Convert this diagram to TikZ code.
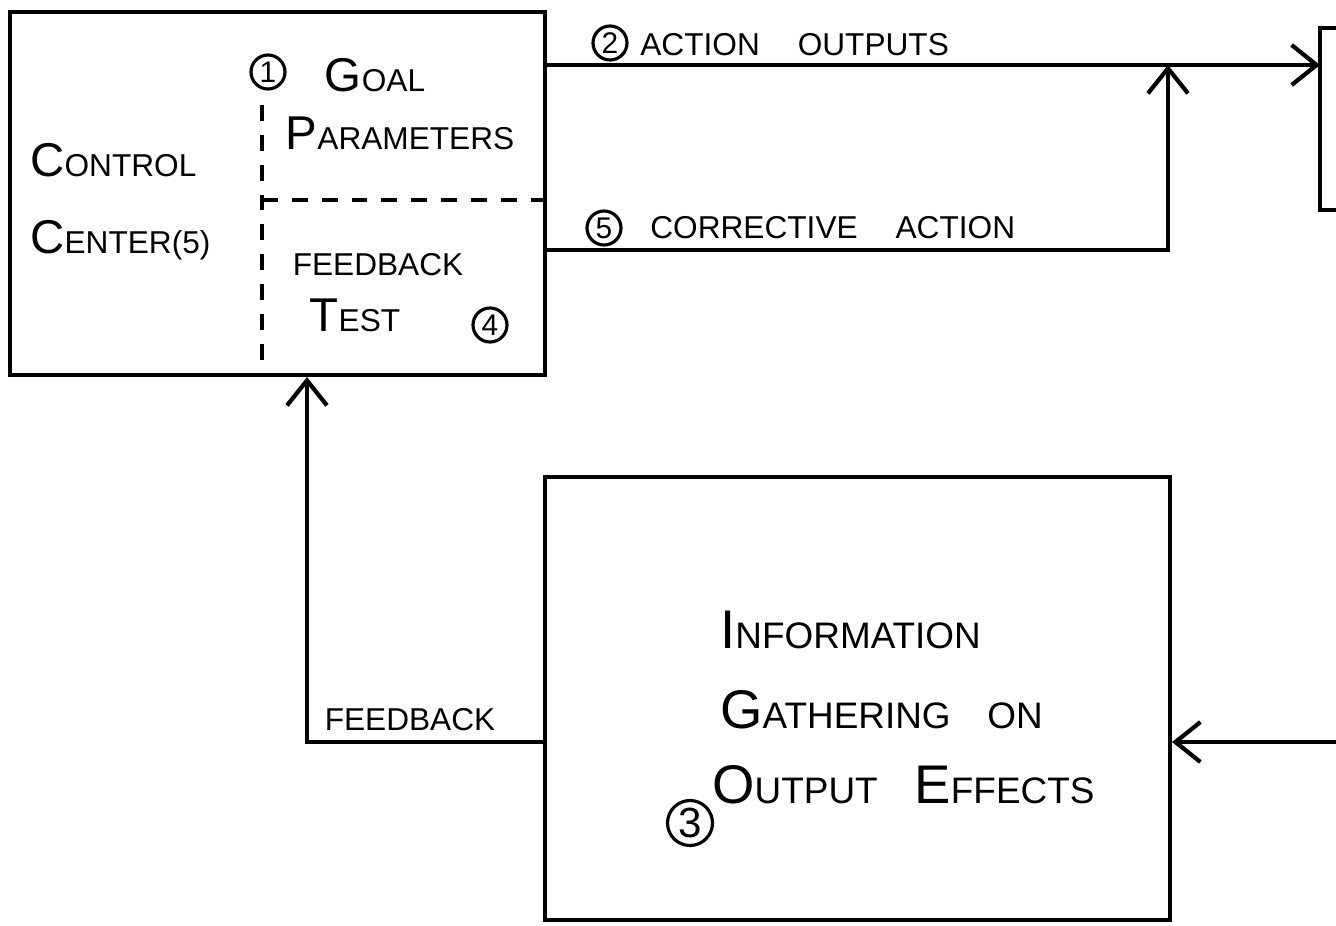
\documentclass[tikz,border=0pt]{standalone}
\usepackage{fontspec}
\setmainfont{Liberation Sans}
\usetikzlibrary{arrows.meta}
\newcommand{\bgc}[1]{{\fontsize{27}{30}\selectfont #1}}
\newcommand{\bgd}[1]{{\fontsize{31}{34}\selectfont #1}}
\begin{document}
\begin{tikzpicture}[x=0.02cm,y=-0.02cm,
  box/.style={draw, line width=2.4pt, inner sep=0pt},
  num/.style={draw, circle, line width=1.8pt, inner sep=0pt, minimum size=0.68cm, font=\fontsize{17}{18}\selectfont},
  lbl/.style={inner sep=0pt, font=\fontsize{18}{20}\selectfont},
  big/.style={inner sep=0pt, font=\fontsize{21}{24}\selectfont},
  line/.style={line width=2.4pt},
  dsh/.style={line width=2pt, dash pattern=on 9pt off 8pt},
  arr/.style={line width=2.4pt, -{Straight Barb[length=5mm, width=8mm]}}]
\useasboundingbox (0,0) rectangle (1336,926);

% boxes
\node[box, minimum width=10.7cm, minimum height=7.26cm] (ctrl) at (277.5,193.5) {};
\node[box, minimum width=12.5cm, minimum height=8.86cm] (info) at (857.5,698.5) {};

% partial right box
\coordinate (rbt) at (1320,28);
\coordinate (rbb) at (1320,210);
\coordinate (rb) at (1320,65);
\draw[line] (rbt -| 1336,0) -- (rbt) -- (rbb) -- (rbb -| 1336,0);

% dashed dividers
\node[num] (c1) at (268,72) {1};
\coordinate (dv) at (262,105);
\draw[dsh] (dv) -- (dv |- ctrl.south);
\coordinate (dh) at (262,200);
\draw[dsh] (dh) -- (dh -| ctrl.east);

% texts in control box
\node[lbl] (goal) at (375,75) {\bgc{G}OAL};
\node[lbl] (param) at (400,133) {\bgc{P}ARAMETERS};
\node[lbl, anchor=west] (control) at (30,160) {\bgc{C}ONTROL};
\node[lbl, anchor=west] (center) at (30,240) {\bgc{C}ENTER(5)};
\node[lbl] (fbtest) at (378,265) {FEEDBACK};
\node[lbl] (test) at (355,315) {\bgc{T}EST};
\node[num] (c4) at (490,325) {4};

% action outputs
\draw[arr] (ctrl.east |- rb) -- (rb);
\node[num] (c2) at (610,43) {2};
\node[lbl, anchor=west] (ao) at (640,45) {ACTION\hspace{1.2em}OUTPUTS};

% corrective action
\coordinate (ca) at (1168,250);
\draw[arr] (ctrl.east |- ca) -- (ca) -- (ca |- rb);
\node[num] (c5) at (604,228) {5};
\node[lbl, anchor=west] (cat) at (650,228) {CORRECTIVE\hspace{1.2em}ACTION};

% feedback
\coordinate (fbx) at (307,742);
\draw[arr] (info.west |- fbx) -- (fbx) -- (fbx |- ctrl.south);
\node[lbl] (fbl) at (410,720) {FEEDBACK};

% incoming on right
\coordinate (inR) at (1336,742);
\draw[arr] (inR) -- (info.east |- inR);

% info box text
\node[big, anchor=west] (inf1) at (720,630) {\bgd{I}NFORMATION};
\node[big, anchor=west] (inf2) at (720,710) {\bgd{G}ATHERING\hspace{1em}ON};
\node[big, anchor=west] (inf3) at (712,785) {\bgd{O}UTPUT\hspace{1em}\bgd{E}FFECTS};
\node[num, minimum size=0.9cm, font=\fontsize{24}{26}\selectfont] (c3) at (690,823) {3};
\end{tikzpicture}
\end{document}
